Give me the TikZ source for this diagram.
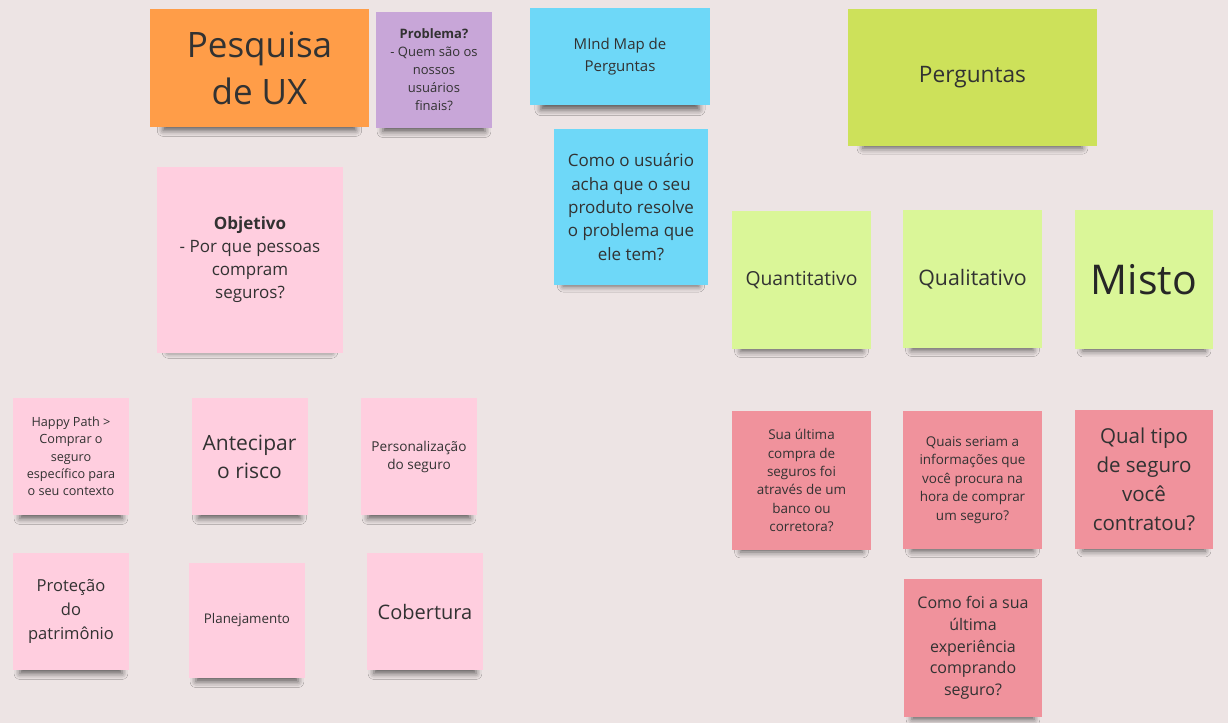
\documentclass[tikz,border=0pt]{standalone}
\usepackage{fontspec}
\setmainfont{Open Sans}
\usetikzlibrary{shadows.blur}

\definecolor{board}{RGB}{237,228,228}
\definecolor{ink}{RGB}{50,50,50}
\definecolor{orangenote}{RGB}{255,157,72}
\definecolor{lilacnote}{RGB}{200,166,216}
\definecolor{skynote}{RGB}{110,216,248}
\definecolor{limedark}{RGB}{205,225,90}
\definecolor{limelight}{RGB}{218,246,152}
\definecolor{pinknote}{RGB}{255,206,223}
\definecolor{rosenote}{RGB}{240,146,156}

\newcommand{\fsz}[2]{\fontsize{#1}{#2}\selectfont}

\tikzset{
	postit/.style={inner sep=0pt, align=center, text=ink,
		blur shadow={shadow xshift=0pt, shadow yshift=-9pt, shadow scale=0.88,
			shadow blur radius=5pt, shadow opacity=60}},
	small/.style={minimum width=87pt, minimum height=87.75pt},
	square/.style={minimum width=104pt, minimum height=104pt}
}

\begin{document}
\begin{tikzpicture}[x=0.75pt,y=-0.75pt]
	\fill[board] (0,0) rectangle (1228,723);
	
	% top left
	\node[postit, fill=orangenote, minimum width=164.25pt, minimum height=88.5pt, font=\fsz{26.25}{35.5}] (pesquisa) at (259.5,68) {Pesquisa\\de UX};
	\node[postit, fill=lilacnote, minimum width=87pt, minimum height=87pt, font=\fsz{9.75}{13.5}] (problema) at (434,70) {\textbf{Problema?}\\- Quem são os\\nossos\\usuários\\finais?};
	\node[postit, fill=pinknote, minimum width=139.5pt, minimum height=139.5pt, font=\fsz{12.75}{17.25}] (objetivo) at (250,260) {\textbf{Objetivo}\\- Por que pessoas\\compram\\seguros?};
	
	% motivos
	\node[postit, small, fill=pinknote, font=\fsz{9.5}{13}] (happy) at (71,456.5) {Happy Path >\\Comprar o\\seguro\\específico para\\o seu contexto};
	\node[postit, small, fill=pinknote, font=\fsz{15.75}{21}] (antecipar) at (249.5,456.5) {Antecipar\\o risco};
	\node[postit, small, fill=pinknote, font=\fsz{10.2}{13.5}] (personal) at (419,456.5) {Personalização\\do seguro};
	\node[postit, small, fill=pinknote, font=\fsz{12.4}{18}] (protecao) at (71,611.5) {Proteção\\do\\patrimônio};
	\node[postit, small, fill=pinknote, minimum height=86.25pt, font=\fsz{10}{13}] (planejamento) at (247,620.5) {Planejamento};
	\node[postit, small, fill=pinknote, font=\fsz{15}{20}] (cobertura) at (425,611.5) {Cobertura};
	
	% mind map
	\node[postit, fill=skynote, minimum width=135pt, minimum height=72.75pt, font=\fsz{11.25}{16.5}] (mindmap) at (620,56.5) {MInd Map de\\Perguntas};
	\node[postit, fill=skynote, minimum width=115.5pt, minimum height=117pt, font=\fsz{12.75}{17.5}] (usuario) at (631,207) {Como o usuário\\acha que o seu\\produto resolve\\o problema que\\ele tem?};
	
	% perguntas
	\node[postit, fill=limedark, minimum width=186.75pt, minimum height=102.75pt, font=\fsz{17}{23}] (perguntas) at (972.5,77.5) {Perguntas};
	\node[postit, square, fill=limelight, font=\fsz{14.5}{19}] (quanti) at (801.5,280) {Quantitativo};
	\node[postit, square, fill=limelight, font=\fsz{16}{21}] (quali) at (972.5,279) {Qualitativo};
	\node[postit, square, fill=limelight, font=\fsz{30.75}{40}, text=black!85] (misto) at (1144,279.5) {Misto};
	
	\node[postit, square, fill=rosenote, font=\fsz{10.1}{13.75}] (ultima) at (801.5,480.5) {Sua última\\compra de\\seguros foi\\através de um\\banco ou\\corretora?};
	\node[postit, square, fill=rosenote, font=\fsz{10.1}{13.9}] (quais) at (972.5,480) {Quais seriam a\\informações que\\você procura na\\hora de comprar\\um seguro?};
	\node[postit, square, fill=rosenote, font=\fsz{15.4}{21.75}] (tipo) at (1144,479.5) {Qual tipo\\de seguro\\você\\contratou?};
	\node[postit, square, fill=rosenote, font=\fsz{12}{16.25}] (comofoi) at (973,648) {Como foi a sua\\última\\experiência\\comprando\\seguro?};
\end{tikzpicture}
\end{document}
